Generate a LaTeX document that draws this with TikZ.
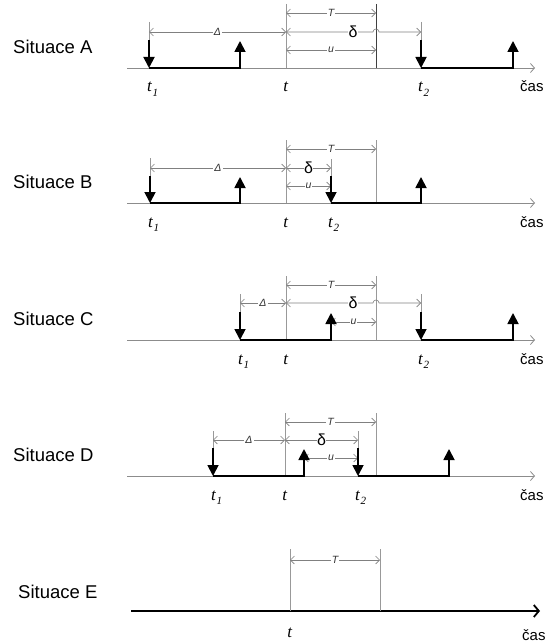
\documentclass[tikz,border=0pt]{standalone}
\usepackage{fontspec}
\setmainfont{Liberation Serif}
\setsansfont{Liberation Sans}
\usetikzlibrary{arrows.meta}

\newcommand{\tlab}[1]{\textit{t}\kern0.3pt\raisebox{-0.25em}{\fontsize{11}{11}\selectfont\itshape #1}}

\begin{document}
\begin{tikzpicture}[x=1pt,y=-1pt,
  ax/.style={black!45,line width=0.8pt,-{Straight Barb[length=4pt,width=9pt]}},
  dim/.style={black!50,line width=0.6pt,{Straight Barb[length=4pt,width=8pt]}-{Straight Barb[length=4pt,width=8pt]}},
  vl/.style={black!40,line width=0.6pt},
  sig/.style={line width=1.8pt,-{Triangle[length=11pt,width=11pt]}},
  dl/.style={fill=white,text=black!80,inner sep=1pt,font=\sffamily\fontsize{10.5}{10}\selectfont\itshape},
  dd/.style={fill=white,text=black,inner sep=0.5pt,font=\sffamily\fontsize{16}{15}\selectfont},
  sit/.style={anchor=base west,inner sep=0pt,font=\sffamily\fontsize{18.5}{20}\selectfont},
  tl/.style={anchor=base,inner sep=0pt,font=\fontsize{17}{17}\selectfont},
  ts/.style={anchor=base west,inner sep=0pt,font=\fontsize{17}{17}\selectfont},
  cas/.style={anchor=base west,inner sep=0pt,font=\sffamily\fontsize{15}{15}\selectfont}]

\useasboundingbox (0,0) rectangle (551,642);

% Situace A
\begin{scope}[yshift=-68pt]
\node[sit] (sA) at (13,-15) {Situace A};
\coordinate (A0) at (127,0);
\coordinate (A9) at (535,0);
\coordinate (At1) at (149,0);
\coordinate (At1a) at (149,-28);
\coordinate (At1b) at (149,-46);
\coordinate (Ap1) at (240,0);
\coordinate (Ap1a) at (240,-27);
\coordinate (At) at (286,0);
\coordinate (Ata) at (286,-64);
\coordinate (ATe) at (376,0);
\coordinate (ATea) at (376,-64);
\coordinate (Ahop) at (373,-36);
\coordinate (At2) at (421,0);
\coordinate (At2a) at (421,-28);
\coordinate (At2b) at (421,-46);
\coordinate (Ap2) at (513,0);
\coordinate (Ap2a) at (513,-27);
\draw[ax] (A0) -- (A9);
\draw[vl] (Ata) -- (At);
\draw[black!75,line width=0.6pt] (ATea) -- (ATe);
\draw[vl] (At1b) -- (At1a);
\draw[vl] (At2b) -- (At2a);
\draw[dim] (At |- 0,-55) -- node[dl]{T} (ATe |- 0,-55);
\draw[dim] (At1 |- 0,-36) -- node[dl]{Δ} (At |- 0,-36);
\draw[dim] (At |- 0,-36) -- node[dd,pos=0.77]{δ} (Ahop) arc[start angle=180,end angle=360,radius=3] -- (At2 |- 0,-36);
\draw[dim] (At |- 0,-18) -- node[dl]{u} (ATe |- 0,-18);
\draw[sig] (At1a) -- (At1);
\draw[sig] (At1) -- (Ap1) -- (Ap1a);
\draw[sig] (At2a) -- (At2);
\draw[sig] (At2) -- (Ap2) -- (Ap2a);
\node[ts] (lAt1) at (147,24) {\tlab{1}};
\node[tl] (lAt) at (286,24) {\textit{t}};
\node[ts] (lAt2) at (418,24) {\tlab{2}};
\node[cas] (cA) at (520,24) {čas};
\end{scope}

% Situace B
\begin{scope}[yshift=-203pt]
\node[sit] (sB) at (13,-15) {Situace B};
\coordinate (B0) at (127,0);
\coordinate (B9) at (535,0);
\coordinate (Bt1) at (150,0);
\coordinate (Bt1a) at (150,-27);
\coordinate (Bt1b) at (150,-45);
\coordinate (Bp1) at (240,0);
\coordinate (Bp1a) at (240,-26);
\coordinate (Bt) at (286,0);
\coordinate (Bta) at (286,-63);
\coordinate (Bt2) at (331,0);
\coordinate (Bt2a) at (331,-27);
\coordinate (Bt2b) at (331,-44);
\coordinate (BTe) at (376,0);
\coordinate (BTea) at (376,-63);
\coordinate (Bp2) at (421,0);
\coordinate (Bp2a) at (421,-26);
\draw[ax] (B0) -- (B9);
\draw[vl] (Bta) -- (Bt);
\draw[vl] (BTea) -- (BTe);
\draw[vl] (Bt1b) -- (Bt1a);
\draw[vl] (Bt2b) -- (Bt2a);
\draw[dim] (Bt |- 0,-54) -- node[dl]{T} (BTe |- 0,-54);
\draw[dim] (Bt1 |- 0,-35) -- node[dl]{Δ} (Bt |- 0,-35);
\draw[dim] (Bt |- 0,-35) -- node[dd]{δ} (Bt2 |- 0,-35);
\draw[dim] (Bt |- 0,-17) -- node[dl]{u} (Bt2 |- 0,-17);
\draw[sig] (Bt1a) -- (Bt1);
\draw[sig] (Bt1) -- (Bp1) -- (Bp1a);
\draw[sig] (Bt2a) -- (Bt2);
\draw[sig] (Bt2) -- (Bp2) -- (Bp2a);
\node[ts] (lBt1) at (148,24) {\tlab{1}};
\node[tl] (lBt) at (286,24) {\textit{t}};
\node[ts] (lBt2) at (328,24) {\tlab{2}};
\node[cas] (cB) at (520,24) {čas};
\end{scope}

% Situace C
\begin{scope}[yshift=-340pt]
\node[sit] (sC) at (13,-15) {Situace C};
\coordinate (C0) at (127,0);
\coordinate (C9) at (535,0);
\coordinate (Ct1) at (240,0);
\coordinate (Ct1a) at (240,-28);
\coordinate (Ct1b) at (240,-46);
\coordinate (Ct) at (286,0);
\coordinate (Cta) at (286,-64);
\coordinate (Cp1) at (331,0);
\coordinate (Cp1a) at (331,-27);
\coordinate (CTe) at (376,0);
\coordinate (CTea) at (376,-64);
\coordinate (Chop) at (373,-37);
\coordinate (Ct2) at (421,0);
\coordinate (Ct2a) at (421,-28);
\coordinate (Ct2b) at (421,-46);
\coordinate (Cp2) at (513,0);
\coordinate (Cp2a) at (513,-27);
\draw[ax] (C0) -- (C9);
\draw[vl] (Cta) -- (Ct);
\draw[vl] (CTea) -- (CTe);
\draw[vl] (Ct1b) -- (Ct1a);
\draw[vl] (Ct2b) -- (Ct2a);
\draw[dim] (Ct |- 0,-55) -- node[dl]{T} (CTe |- 0,-55);
\draw[dim] (Ct1 |- 0,-37) -- node[dl]{Δ} (Ct |- 0,-37);
\draw[dim] (Ct |- 0,-37) -- node[dd,pos=0.77]{δ} (Chop) arc[start angle=180,end angle=360,radius=3] -- (Ct2 |- 0,-37);
\draw[dim] (Cp1 |- 0,-18) -- node[dl]{u} (CTe |- 0,-18);
\draw[sig] (Ct1a) -- (Ct1);
\draw[sig] (Ct1) -- (Cp1) -- (Cp1a);
\draw[sig] (Ct2a) -- (Ct2);
\draw[sig] (Ct2) -- (Cp2) -- (Cp2a);
\node[ts] (lCt1) at (238,24) {\tlab{1}};
\node[tl] (lCt) at (286,24) {\textit{t}};
\node[ts] (lCt2) at (418,24) {\tlab{2}};
\node[cas] (cC) at (520,24) {čas};
\end{scope}

% Situace D
\begin{scope}[yshift=-476pt]
\node[sit] (sD) at (13,-15) {Situace D};
\coordinate (D0) at (127,0);
\coordinate (D9) at (535,0);
\coordinate (Dt1) at (213,0);
\coordinate (Dt1a) at (213,-28);
\coordinate (Dt1b) at (213,-45);
\coordinate (Dt) at (285,0);
\coordinate (Dta) at (285,-63);
\coordinate (Dp1) at (304,0);
\coordinate (Dp1a) at (304,-27);
\coordinate (Dt2) at (358,0);
\coordinate (Dt2a) at (358,-28);
\coordinate (Dt2b) at (358,-45);
\coordinate (DTe) at (376,0);
\coordinate (DTea) at (376,-63);
\coordinate (Dp2) at (449,0);
\coordinate (Dp2a) at (449,-27);
\draw[ax] (D0) -- (D9);
\draw[vl] (Dta) -- (Dt);
\draw[vl] (DTea) -- (DTe);
\draw[vl] (Dt1b) -- (Dt1a);
\draw[vl] (Dt2b) -- (Dt2a);
\draw[dim] (Dt |- 0,-54) -- node[dl]{T} (DTe |- 0,-54);
\draw[dim] (Dt1 |- 0,-36) -- node[dl]{Δ} (Dt |- 0,-36);
\draw[dim] (Dt |- 0,-36) -- node[dd]{δ} (Dt2 |- 0,-36);
\draw[dim] (Dp1 |- 0,-18) -- node[dl]{u} (Dt2 |- 0,-18);
\draw[sig] (Dt1a) -- (Dt1);
\draw[sig] (Dt1) -- (Dp1) -- (Dp1a);
\draw[sig] (Dt2a) -- (Dt2);
\draw[sig] (Dt2) -- (Dp2) -- (Dp2a);
\node[ts] (lDt1) at (211,24) {\tlab{1}};
\node[tl] (lDt) at (285,24) {\textit{t}};
\node[ts] (lDt2) at (355,24) {\tlab{2}};
\node[cas] (cD) at (520,24) {čas};
\end{scope}

% Situace E
\begin{scope}[yshift=-611pt]
\node[sit] (sE) at (18,-13) {Situace E};
\coordinate (E0) at (131,0);
\coordinate (E9) at (540,0);
\coordinate (Et) at (290,0);
\coordinate (Eta) at (290,-62);
\coordinate (ETe) at (380,0);
\coordinate (ETea) at (380,-62);
\draw[line width=1.8pt,-{Straight Barb[length=5pt,width=12pt]}] (E0) -- (E9);
\draw[vl] (Eta) -- (Et);
\draw[vl] (ETea) -- (ETe);
\draw[dim] (Et |- 0,-51) -- node[dl]{T} (ETe |- 0,-51);
\node[tl] (lEt) at (290,26) {\textit{t}};
\node[cas] (cE) at (522,29) {čas};
\end{scope}

\end{tikzpicture}
\end{document}
